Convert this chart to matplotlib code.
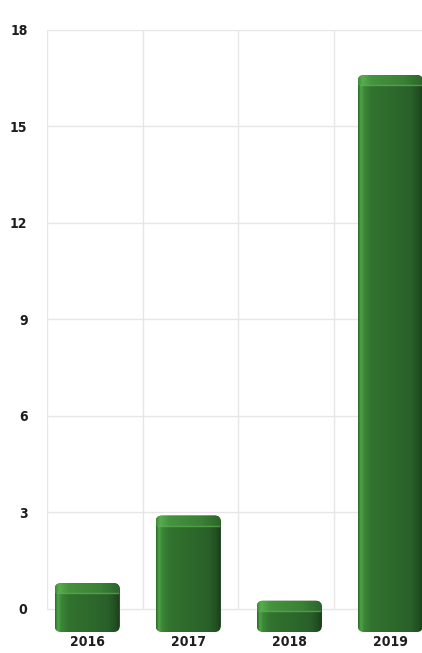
import numpy as np
import matplotlib
matplotlib.use('Agg')
import matplotlib.pyplot as plt
from matplotlib.patches import FancyBboxPatch
from matplotlib.colors import LinearSegmentedColormap

years = ['2016', '2017', '2018', '2019']
values = [0.8, 2.9, 0.25, 16.6]
yticks = [0, 3, 6, 9, 12, 15, 18]

plt.rcParams['font.family'] = ['Liberation Sans Narrow', 'DejaVu Sans']

fig = plt.figure(figsize=(4.22, 6.53), dpi=100)
ax = fig.add_axes([47 / 422, 21 / 653, 1 - 47 / 422, (632 - 30) / 653])

depth = 0.72      # fake 3d: front face hangs below the zero line
width = 0.65
xs = np.arange(len(years)) * 1.005

ax.set_xlim(-0.4, 3.33)
ax.set_ylim(-depth, 18)

# grid
for y in yticks:
    ax.axhline(y, color='#e6e6e6', lw=1, zorder=0)
for b in [-0.4, 0.55, 1.5, 2.45]:
    ax.vlines(b, 0, 18, color='#e6e6e6', lw=1, zorder=0)

body = LinearSegmentedColormap.from_list(
    'body', [(0, '#2d6a2b'), (0.04, '#4ea446'), (0.09, '#3b8737'),
             (0.2, '#32732f'), (0.5, '#2e6a2c'), (0.8, '#29602a'),
             (0.93, '#214d21'), (1, '#173817')])
cap = LinearSegmentedColormap.from_list(
    'cap', [(0, '#3f8c3a'), (0.06, '#57ad4d'), (0.2, '#45933f'),
            (0.7, '#3a8035'), (1, '#2c632b')])

sx = 422 / 3.73     # px per unit x
sy = 602 / 18.72    # px per unit y
aspect = sx / sy
grad = np.linspace(0, 1, 128).reshape(1, -1)

for x, v in zip(xs, values):
    x0 = x - width / 2
    h = v + depth
    patch = FancyBboxPatch((x0, -depth), width, h,
                           boxstyle='round,pad=0,rounding_size=0.06',
                           mutation_aspect=aspect, fc='none', ec='none', zorder=2)
    ax.add_patch(patch)
    im = ax.imshow(grad, cmap=body, aspect='auto', zorder=2,
                   extent=[x0, x0 + width, -depth, v])
    im.set_clip_path(patch)
    capH = 0.32
    im2 = ax.imshow(grad, cmap=cap, aspect='auto', zorder=3,
                    extent=[x0, x0 + width, v - capH, v])
    im2.set_clip_path(patch)
    ax.plot([x0 + 0.02, x0 + width - 0.02], [v - capH, v - capH],
            color='#62b555', lw=1.0, alpha=0.7, zorder=4)

ax.set_yticks(yticks)
ax.set_yticklabels([str(t) for t in yticks])
ax.set_xticks(xs)
ax.set_xticklabels(years)
ax.tick_params(length=0, labelsize=10, colors='#1e1e1e')
ax.tick_params(axis='y', pad=14)
ax.tick_params(axis='x', pad=2)
for lab in ax.get_xticklabels() + ax.get_yticklabels():
    lab.set_fontweight('bold')
    lab.set_fontstretch('condensed')
for s in ax.spines.values():
    s.set_visible(False)

fig.savefig('out.png', dpi=100)
